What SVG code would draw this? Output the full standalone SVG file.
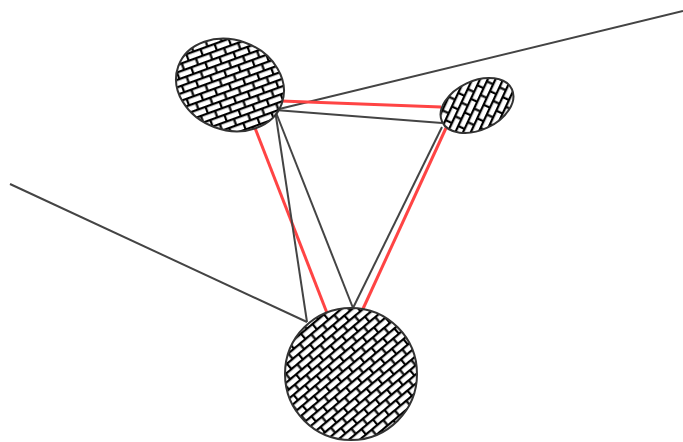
<svg xmlns="http://www.w3.org/2000/svg" width="683" height="442" viewBox="0 0 683 442">
<defs>
<pattern id="brick" patternUnits="userSpaceOnUse" width="15" height="14" patternTransform="rotate(-40)">
<rect width="15" height="14" fill="#fff"/>
<path d="M0 1.1H15M0 8.1H15M1.1 0V8.1M8.6 8.1V14" stroke="#000" stroke-width="2.2" fill="none"/>
</pattern>
<style>
.node{fill:url(#brick);stroke:#333;stroke-width:2}
.edge{stroke:#444;stroke-width:2;fill:none}
.red{stroke:#f44;stroke-width:3;fill:none}
</style>
</defs>
<g id="connectors">
<line class="edge" x1="683" y1="11" x2="275" y2="110"/>
<line class="edge" x1="10" y1="184" x2="307" y2="322"/>
<line class="red" x1="281" y1="101" x2="441" y2="107"/>
<line class="red" x1="255" y1="128" x2="327" y2="313"/>
<line class="red" x1="446" y1="128" x2="362" y2="311"/>
<line class="edge" x1="275" y1="110" x2="442" y2="123"/>
<line class="edge" x1="275" y1="110" x2="307" y2="322"/>
<line class="edge" x1="275" y1="110" x2="353" y2="308"/>
<line class="edge" x1="442" y1="127" x2="353" y2="308"/>
</g>
<g id="nodeA"><ellipse class="node" cx="230" cy="85" rx="55" ry="45" transform="rotate(20 230 85)"/></g>
<g id="nodeB"><ellipse class="node" cx="477" cy="105.5" rx="38.5" ry="24.5" transform="rotate(-25 477 105.5)"/></g>
<g id="nodeC"><circle class="node" cx="351" cy="374" r="66"/></g>
</svg>
